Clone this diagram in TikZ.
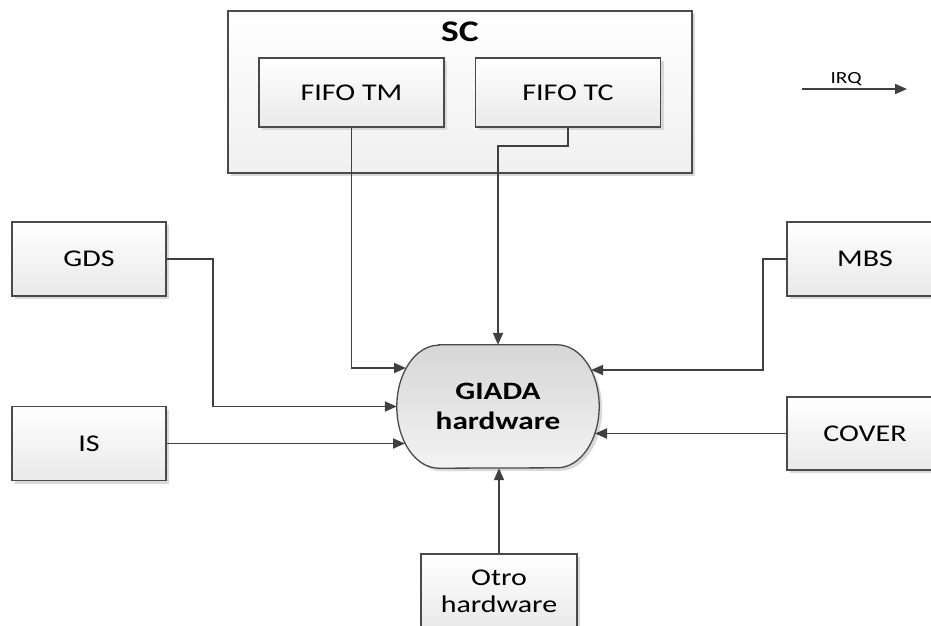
\documentclass[tikz,border=0pt]{standalone}
\usepackage{fontspec}
\setmainfont{Carlito}[FakeStretch=1.25]
\usetikzlibrary{arrows.meta}
\definecolor{linec}{HTML}{404040}
\definecolor{boxline}{HTML}{4A4A4A}
\definecolor{boxbot}{HTML}{E9E9E9}
\definecolor{shadowc}{HTML}{D9D9D9}
\definecolor{gtop}{HTML}{D6D6D6}
\definecolor{gbot}{HTML}{F3F3F3}
\tikzset{
  shadowed/.style={preaction={fill=shadowc, transform canvas={xshift=3pt,yshift=-3pt}}},
  box/.style={shadowed, draw=boxline, line width=1.3pt, top color=white, bottom color=boxbot,
    minimum width=154pt, minimum height=74pt, inner sep=0pt, align=center,
    font=\fontsize{24}{27}\selectfont},
  scbox/.style={shadowed, draw=boxline, line width=1.3pt, top color=white, bottom color=boxbot!70!white,
    minimum width=464pt, minimum height=162pt, inner sep=0pt},
  conn/.style={draw=linec, line width=1.9pt, -{Triangle[length=12pt,width=10pt]}},
}
\begin{document}
\begin{tikzpicture}[x=1pt,y=-1pt]
\useasboundingbox (0,0) rectangle (931,626);
\clip (0,0) rectangle (931,626);
% SC container
\node[scbox] (sc) at (460,92) {};
\node[font=\fontsize{30}{33}\selectfont\bfseries] (sclabel) at (460,32) {SC};
\node[box, minimum width=185pt, minimum height=69pt] (tm) at (351.5,92.5) {FIFO TM};
\node[box, minimum width=185pt, minimum height=69pt] (tc) at (568,92.5) {FIFO TC};
% side boxes
\node[box] (gds) at (89,259) {GDS};
\node[box] (is) at (89,443.5) {IS};
\node[box, minimum width=156pt] (mbs) at (865,259) {MBS};
\node[box, minimum width=156pt, minimum height=73pt] (cover) at (865,433.5) {COVER};
\node[box, minimum width=156pt] (otro) at (499,591) {Otro\\hardware};
% GIADA hardware
\node[minimum width=202pt, minimum height=123pt, inner sep=0pt] (giada) at (498,406.5) {};
\path[shadowed, draw=boxline, line width=1.3pt, top color=gtop, bottom color=gbot]
  ([xshift=42pt]giada.north west) -- ([xshift=-42pt]giada.north east)
  arc[start angle=-90, end angle=90, x radius=42, y radius=61.5]
  -- ([xshift=42pt]giada.south west)
  arc[start angle=90, end angle=270, x radius=42, y radius=61.5] -- cycle;
\node[align=center, font=\fontsize{25}{30}\selectfont\bfseries] (glabel) at (giada.center) {GIADA\\hardware};
% boundary points of the GIADA outline
\coordinate (gtm) at (406,368);
\coordinate (gis) at (405,443.5);
\coordinate (gmbs) at (591,370);
\coordinate (gcov) at (595,433.5);
% connectors
\draw[conn] (tm.south) |- (gtm);
\draw[conn] (tc.south) -- ++(0,18) -| (giada.north);
\draw[conn] (gds.east) -- ++(46,0) |- (giada.west);
\draw[conn] (is.east) -- (gis);
\draw[conn] (mbs.west) -- ++(-23,0) |- (gmbs);
\draw[conn] (cover.west) -- (gcov);
\draw[conn] (otro.north) -- (otro.north |- giada.south);
% IRQ legend
\coordinate (irqa) at (802,89);
\coordinate (irqb) at (907,89);
\draw[conn] (irqa) -- node[pos=0.42, above=1pt, font=\fontsize{17}{19}\selectfont, inner sep=1pt] (irqlabel) {IRQ} (irqb);
\end{tikzpicture}
\end{document}
